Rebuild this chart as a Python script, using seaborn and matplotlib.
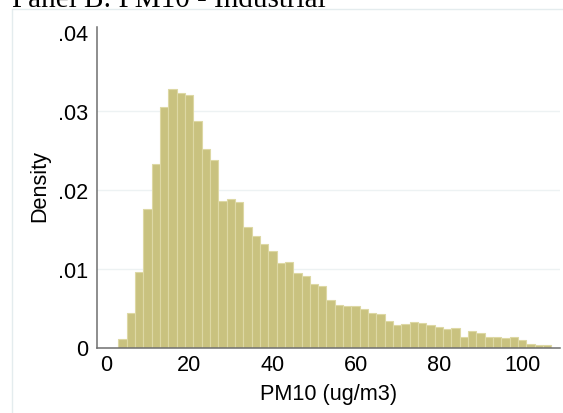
import matplotlib
matplotlib.use("Agg")
import matplotlib.pyplot as plt
from matplotlib.lines import Line2D
import numpy as np
import pandas as pd
import seaborn as sns

# ---- data ----
bin_edges = list(range(3, 109, 2))  # 3,5,...,107 -> 52 bins of width 2
density = [
    0.0011, 0.0044, 0.0096, 0.0176, 0.0232, 0.0305, 0.0327, 0.0323, 0.0320, 0.0287,
    0.0251, 0.0238, 0.0186, 0.0188, 0.0184, 0.0153, 0.0141, 0.0131, 0.0122, 0.0107,
    0.0108, 0.0094, 0.0091, 0.0081, 0.0078, 0.0060, 0.0054, 0.0052, 0.0052, 0.0049,
    0.0044, 0.0042, 0.0033, 0.0029, 0.0030, 0.0032, 0.0031, 0.0028, 0.0026, 0.0023,
    0.0025, 0.0013, 0.0021, 0.0019, 0.0013, 0.0013, 0.0012, 0.0013, 0.00095, 0.00045,
    0.0003, 0.00028,
]
x_ticks = [0, 20, 40, 60, 80, 100]
x_tick_labels = ["0", "20", "40", "60", "80", "100"]
y_ticks = [0, 0.01, 0.02, 0.03, 0.04]
y_tick_labels = ["0", ".01", ".02", ".03", ".04"]
title_text = "Panel B: PM10 - Industrial"
x_title = "PM10 (ug/m3)"
y_title = "Density"

centers = [(a + b) / 2 for a, b in zip(bin_edges[:-1], bin_edges[1:])]
df = pd.DataFrame({"pm10": centers, "density": density})

sns.set_theme(style="white")
plt.rcParams["font.family"] = ["Liberation Sans", "DejaVu Sans"]

W, H = 563, 414
fig = plt.figure(figsize=(W / 100, H / 100), dpi=100)
fig.patch.set_facecolor("white")

# axes placement in pixels
ax_left, ax_right = 96.7, 560.0
ax_top, ax_bottom = 28.0, 348.5
ax = fig.add_axes([ax_left / W, 1 - ax_bottom / H,
                   (ax_right - ax_left) / W, (ax_bottom - ax_top) / H])
ax.set_facecolor("white")

sns.histplot(data=df, x="pm10", weights="density", bins=bin_edges, stat="count",
             color="#c9c27f", edgecolor="#ddd8a4", linewidth=0.8, alpha=1,
             ax=ax, zorder=2)

# scales: 0 at px 105.7, 100 at px 522.3 ; 0 at px 348.5, .03 at px 111.7
px_per_unit = (522.3 - 105.7) / 100
ax.set_xlim((ax_left - 105.7) / px_per_unit, (ax_right - 105.7) / px_per_unit)
px_per_dens = (348.5 - 111.7) / 0.03
ax.set_ylim(0, (ax_bottom - ax_top) / px_per_dens)

for yv in y_ticks[1:-1]:
    ax.axhline(yv, color="#edf2f3", linewidth=1.0, zorder=1)

ax.set_xticks(x_ticks)
ax.set_xticklabels(x_tick_labels)
ax.set_yticks(y_ticks)
ax.set_yticklabels(y_tick_labels)

for s in ["top", "right"]:
    ax.spines[s].set_visible(False)
for s in ["left", "bottom"]:
    ax.spines[s].set_color("#6f6f6f")
    ax.spines[s].set_linewidth(1.1)
    ax.spines[s].set_zorder(3)

ax.tick_params(axis="both", which="major", direction="out", length=3.8, width=1.0,
               color="#4a4a4a", labelsize=15.6, labelcolor="black")
ax.tick_params(axis="y", pad=2.6)
ax.tick_params(axis="x", pad=0.6)
ax.grid(False)

ax.set_xlabel(x_title, fontsize=15.6, color="black", labelpad=6)
ax.set_ylabel(y_title, fontsize=15.6, color="black")
ax.yaxis.set_label_coords((50 - ax_left) / (ax_right - ax_left),
                          (ax_bottom - 186) / (ax_bottom - ax_top))

# outer graph-region border (light)
fig.add_artist(Line2D([12 / W, 12 / W], [0, 1 - 10 / H], transform=fig.transFigure,
                      color="#e4ecee", linewidth=1.0))
fig.add_artist(Line2D([12 / W, 1], [1 - 10 / H, 1 - 10 / H], transform=fig.transFigure,
                      color="#e4ecee", linewidth=1.0))

fig.text(11.7 / W, 1 - 7 / H, title_text, family=["Liberation Serif", "DejaVu Serif"],
         fontsize=21, ha="left", va="baseline", color="black")

fig.savefig("out.png", dpi=100, facecolor="white")
